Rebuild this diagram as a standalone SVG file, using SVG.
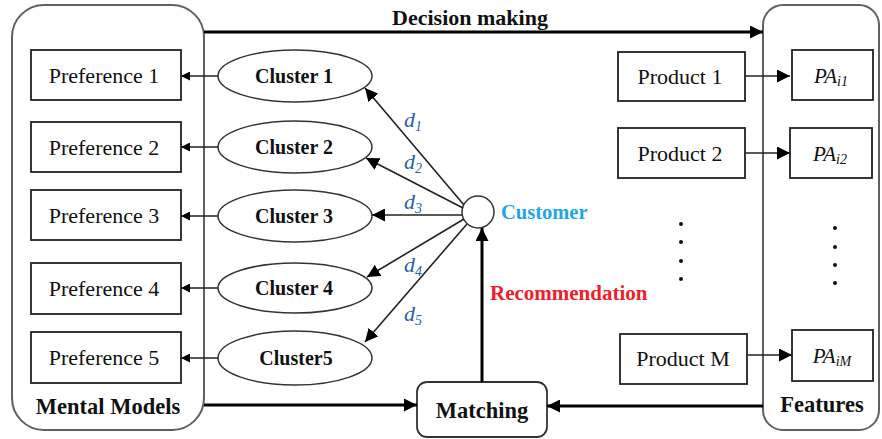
<svg xmlns="http://www.w3.org/2000/svg" width="882" height="439" viewBox="0 0 882 439">
  <style>
    .container { fill: #fff; stroke: #606060; stroke-width: 2; }
    .box { fill: #fff; stroke: #222; stroke-width: 1.8; }
    .ell { fill: #fff; stroke: #333; stroke-width: 1.5; }
    .t { font-family: "Liberation Serif", "Times New Roman", serif; fill: #111; }
    .reg { font-size: 22px; }
    .bold { font-weight: bold; }
    .lbl { font-size: 20px; font-weight: bold; }
    .big { font-size: 22.5px; font-weight: bold; }
    .dl { font-family: "Liberation Serif", "Times New Roman", serif; font-style: italic; font-size: 22px; fill: #2f5fa8; }
    .dsub { font-size: 14px; }
    .pa { font-family: "Liberation Serif", "Times New Roman", serif; font-style: italic; font-size: 21px; fill: #111; }
    .thin { stroke: #222; stroke-width: 1.6; fill: none; }
    .thick { stroke: #000; stroke-width: 3; fill: none; }
    .dot { fill: #111; }
  </style>
  <defs>
    <marker id="ah" viewBox="0 0 10 10" refX="10" refY="5" markerWidth="9" markerHeight="9" markerUnits="userSpaceOnUse" orient="auto">
      <path d="M0,0 L10,5 L0,10 z" fill="#000"/>
    </marker>
    <marker id="ahs" viewBox="0 0 10 10" refX="10" refY="5" markerWidth="13" markerHeight="13" markerUnits="userSpaceOnUse" orient="auto">
      <path d="M0,0 L10,5 L0,10 z" fill="#000"/>
    </marker>
  </defs>

  <!-- containers -->
  <g id="mental-models">
    <rect class="container" x="12" y="5" width="192" height="425" rx="32"/>
    <text class="t big" x="108" y="414" text-anchor="middle">Mental Models</text>
  </g>
  <g id="features">
    <rect class="container" x="763" y="5" width="116" height="425" rx="20"/>
    <text class="t big" x="822" y="412" text-anchor="middle">Features</text>
  </g>

  <!-- preferences -->
  <g id="pref1"><rect class="box" x="31" y="50" width="150" height="50"/><text class="t reg" x="104" y="83" text-anchor="middle">Preference 1</text></g>
  <g id="pref2"><rect class="box" x="31" y="122" width="150" height="50"/><text class="t reg" x="104" y="155" text-anchor="middle">Preference 2</text></g>
  <g id="pref3"><rect class="box" x="31" y="190" width="150" height="50"/><text class="t reg" x="104" y="223" text-anchor="middle">Preference 3</text></g>
  <g id="pref4"><rect class="box" x="31" y="263" width="150" height="51"/><text class="t reg" x="104" y="296" text-anchor="middle">Preference 4</text></g>
  <g id="pref5"><rect class="box" x="31" y="332" width="150" height="51"/><text class="t reg" x="104" y="365" text-anchor="middle">Preference 5</text></g>

  <!-- clusters -->
  <g id="cluster1"><ellipse class="ell" cx="295" cy="76" rx="77" ry="26"/><text class="t lbl" x="294" y="83" text-anchor="middle">Cluster 1</text></g>
  <g id="cluster2"><ellipse class="ell" cx="295" cy="147" rx="77" ry="26"/><text class="t lbl" x="294" y="154" text-anchor="middle">Cluster 2</text></g>
  <g id="cluster3"><ellipse class="ell" cx="295" cy="216" rx="77" ry="26"/><text class="t lbl" x="294" y="223" text-anchor="middle">Cluster 3</text></g>
  <g id="cluster4"><ellipse class="ell" cx="295" cy="288" rx="77" ry="25"/><text class="t lbl" x="294" y="295" text-anchor="middle">Cluster 4</text></g>
  <g id="cluster5"><ellipse class="ell" cx="295" cy="358" rx="77" ry="27"/><text class="t lbl" x="296" y="365" text-anchor="middle">Cluster5</text></g>

  <!-- customer -->
  <g id="customer">
    <circle cx="478" cy="212" r="16" fill="#fff" stroke="#333" stroke-width="1.5"/>
    <text class="t" x="501" y="219" font-size="20.5" font-weight="bold" style="fill:#1ea6ea">Customer</text>
  </g>

  <!-- products -->
  <g id="product1"><rect class="box" x="618" y="52" width="127" height="49"/><text class="t reg" x="680" y="84" text-anchor="middle">Product 1</text></g>
  <g id="product2"><rect class="box" x="618" y="128" width="127" height="50"/><text class="t reg" x="680" y="161" text-anchor="middle">Product 2</text></g>
  <g id="productM"><rect class="box" x="620" y="334" width="127" height="50"/><text class="t reg" x="683" y="366" text-anchor="middle">Product M</text></g>

  <!-- product attributes -->
  <g id="pa1"><rect class="box" x="792" y="50" width="81" height="50"/><text class="pa" x="831" y="83" text-anchor="middle">PA<tspan font-size="14" dy="3">i1</tspan></text></g>
  <g id="pa2"><rect class="box" x="790" y="128" width="82" height="50"/><text class="pa" x="830" y="161" text-anchor="middle">PA<tspan font-size="14" dy="3">i2</tspan></text></g>
  <g id="paM"><rect class="box" x="792" y="330" width="81" height="51"/><text class="pa" x="832" y="363" text-anchor="middle">PA<tspan font-size="14" dy="3">iM</tspan></text></g>

  <!-- matching -->
  <g id="matching">
    <rect x="417" y="382" width="130" height="55" rx="10" fill="#fff" stroke="#333" stroke-width="1.8"/>
    <text class="t big" x="482" y="418" text-anchor="middle">Matching</text>
  </g>

  <!-- ellipsis dots -->
  <g id="more-products">
    <circle class="dot" cx="681" cy="224" r="2"/><circle class="dot" cx="681" cy="242" r="2"/>
    <circle class="dot" cx="681" cy="261" r="2"/><circle class="dot" cx="681" cy="279" r="2"/>
  </g>
  <g id="more-features">
    <circle class="dot" cx="835" cy="228" r="2"/><circle class="dot" cx="835" cy="247" r="2"/>
    <circle class="dot" cx="835" cy="265" r="2"/><circle class="dot" cx="835" cy="283" r="2"/>
  </g>

  <!-- connectors -->
  <g id="connectors">
    <path class="thin" d="M218,76 H181" marker-end="url(#ah)"/>
    <path class="thin" d="M218,147 H181" marker-end="url(#ah)"/>
    <path class="thin" d="M218,216 H181" marker-end="url(#ah)"/>
    <path class="thin" d="M218,288 H181" marker-end="url(#ah)"/>
    <path class="thin" d="M218,358 H181" marker-end="url(#ah)"/>

    <path class="thin" d="M464,205 L365,88" marker-end="url(#ahs)"/>
    <path class="thin" d="M463,208 L366,158" marker-end="url(#ahs)"/>
    <path class="thin" d="M462,215 L372,215" marker-end="url(#ahs)"/>
    <path class="thin" d="M464,219 L367,277" marker-end="url(#ahs)"/>
    <path class="thin" d="M467,224 L365,342" marker-end="url(#ahs)"/>

    <path class="thin" d="M745,76 H790" marker-end="url(#ahs)"/>
    <path class="thin" d="M745,153 H790" marker-end="url(#ahs)"/>
    <path class="thin" d="M747,355 H792" marker-end="url(#ahs)"/>

    <path class="thick" d="M204,32 H763" marker-end="url(#ahs)"/>
    <path class="thick" d="M204,405 H417" marker-end="url(#ahs)"/>
    <path class="thick" d="M763,406 H547" marker-end="url(#ahs)"/>
    <path class="thick" d="M482,382 V228" marker-end="url(#ahs)"/>
  </g>

  <!-- connector labels -->
  <g id="labels">
    <text class="t bold" x="470" y="25" font-size="22" text-anchor="middle">Decision making</text>
    <text class="t bold" x="490" y="300" font-size="21" style="fill:#f21d2b">Recommendation</text>
    <text class="dl" x="404" y="127">d<tspan class="dsub" dy="4">1</tspan></text>
    <text class="dl" x="404" y="169">d<tspan class="dsub" dy="4">2</tspan></text>
    <text class="dl" x="404" y="209">d<tspan class="dsub" dy="4">3</tspan></text>
    <text class="dl" x="404" y="272">d<tspan class="dsub" dy="4">4</tspan></text>
    <text class="dl" x="404" y="321">d<tspan class="dsub" dy="4">5</tspan></text>
  </g>
</svg>
